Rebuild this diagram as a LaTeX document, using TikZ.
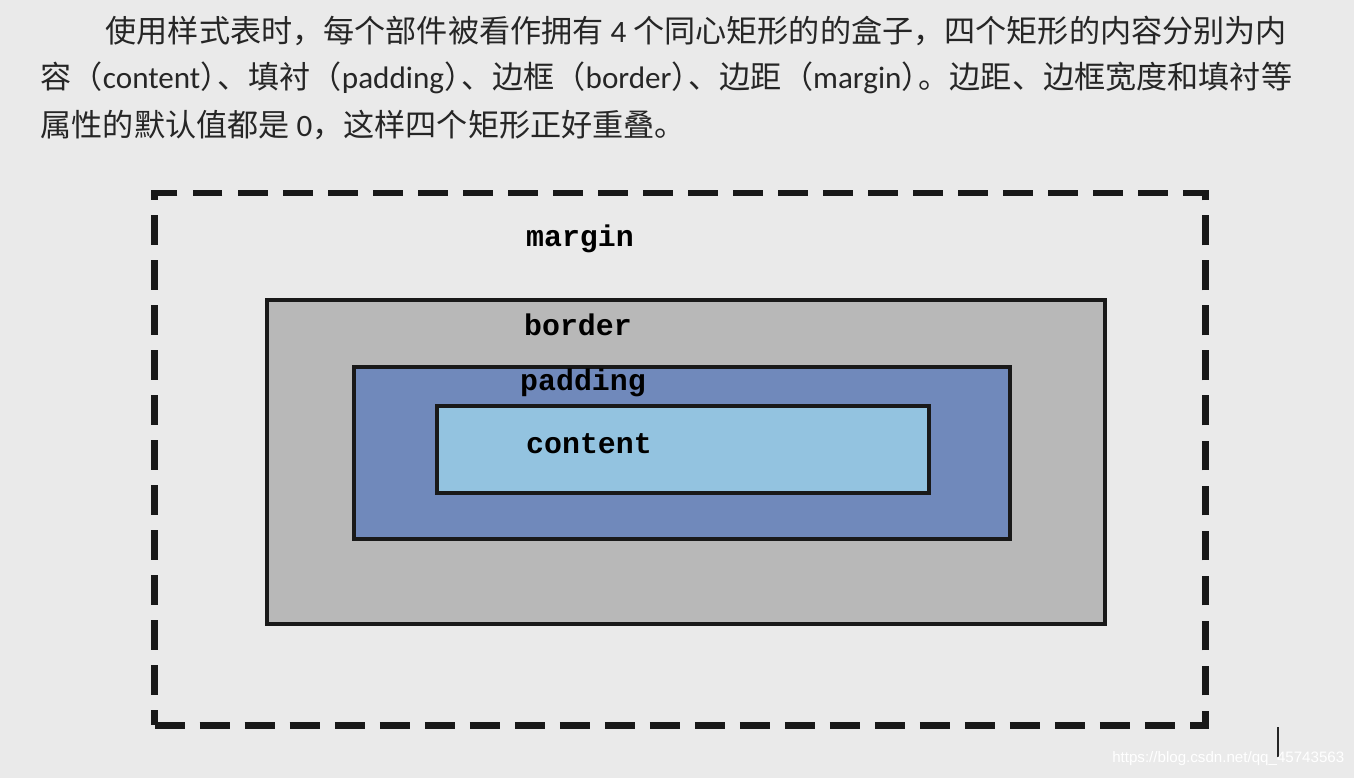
\documentclass[tikz,border=0pt]{standalone}
\usepackage{fontspec}
\setmainfont{Carlito}
\newfontfamily\cjk{Noto Sans CJK SC}
\newfontfamily\boxfont{Liberation Mono}
\newfontfamily\markfont{Liberation Sans}
\usetikzlibrary{positioning}

\definecolor{pagebg}{HTML}{EAEAEA}
\definecolor{bordergray}{HTML}{B8B8B8}
\definecolor{padblue}{HTML}{7089BB}
\definecolor{contentblue}{HTML}{93C3E0}

\newcommand{\tightp}{\kern-0.45em}

\tikzset{
  layer/.style={draw=black!90, line width=1.2pt, inner sep=0pt, outer sep=0pt},
  marginbox/.style={draw=black!90, line width=1.9pt, dash pattern=on 8.5pt off 4.3pt, inner sep=0pt, outer sep=0pt},
  boxlabel/.style={font=\boxfont\bfseries\fontsize{8.5}{10}\selectfont, inner sep=0pt},
  line/.style={anchor=west, inner sep=0pt, font=\cjk\fontsize{8.85}{10}\selectfont, text=black!85}
}

\begin{document}
\begin{tikzpicture}[x=0.01cm, y=-0.01cm]
\useasboundingbox[fill=pagebg] (0,0) rectangle (1354,778);
% text
\node[line] (line1) at (105,31) {使用样式表时，每个部件被看作拥有 {\rmfamily 4} 个同心矩形的的盒子，四个矩形的内容分别为内};
\node[line] (line2) at (40,78) {容（{\rmfamily content}）\tightp 、填衬（{\rmfamily padding}）\tightp 、边框（{\rmfamily border}）\tightp 、边距（{\rmfamily margin}）\tightp 。边距、边框宽度和填衬等};
\node[line] (line3) at (40,125) {属性的默认值都是 {\rmfamily 0}，这样四个矩形正好重叠。};
% boxes
\node[marginbox, minimum width=10.5cm, minimum height=5.32cm] (margin) at (680,459) {};
\node[layer, fill=bordergray, minimum width=8.38cm, minimum height=3.24cm] (border) at (686,462) {};
\node[layer, fill=padblue, minimum width=6.56cm, minimum height=1.72cm] (padding) at (682,453) {};
\node[layer, fill=contentblue, minimum width=4.92cm, minimum height=0.87cm] (content) at (683,449.5) {};
% labels
\node[boxlabel] (marginlbl) at (580,239) {margin};
\node[boxlabel] (borderlbl) at (578,325) {border};
\node[boxlabel] (paddinglbl) at (583,383) {padding};
\node[boxlabel] (contentlbl) at (589,444) {content};
% cursor and mark
\coordinate (cursortop) at (1278,727);
\coordinate (cursorbot) at (1278,757);
\draw[line width=0.6pt, black!85] (cursortop) -- (cursorbot);
\node[font=\markfont\fontsize{4.3}{5}\selectfont, text=white, anchor=east, inner sep=0pt] (mark) at (1345,759) {https://blog.csdn.net/qq\_45743563};
\end{tikzpicture}
\end{document}
